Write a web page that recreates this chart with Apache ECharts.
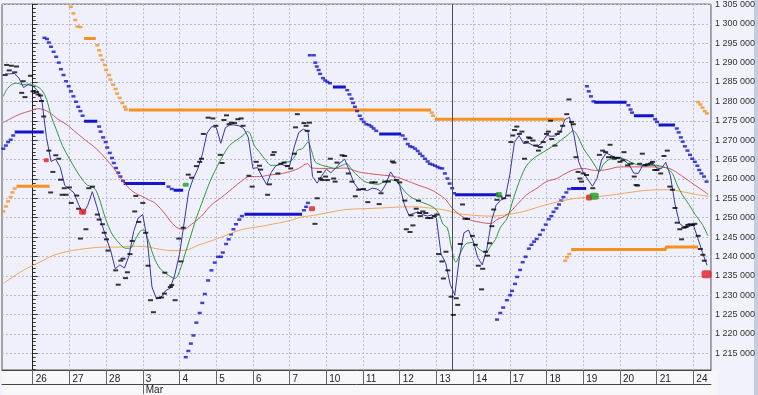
<!DOCTYPE html>
<html><head><meta charset="utf-8">
<script src="https://cdn.jsdelivr.net/npm/echarts@6/dist/echarts.min.js"></script>
<style>html,body{margin:0;padding:0;background:#f1f2fb}#c{width:758px;height:395px}</style>
</head><body><div id="c"></div>
<script>
// x unit: trading day (0 = day "26"), y unit: price in thousands
const dayLabels = ['26','27','28','3','4','5','6','7','10','11','12','13','14','17','18','19','20','21','24'];
const monthLabels = [[3,'Mar']];
const yLabelValues = [1215,1220,1225,1230,1235,1240,1245,1250,1255,1260,1265,1270,1275,1280,1285,1290,1295,1300,1305];
const cursorAt = 11.44;

const blueStart = -0.75, blueStep = 0.125;
const blueLine = [
1287.1,1287.1,1287.2,1286.0,1283.6,1284.3,1284.0,1282.8,1280.2,1270.7,
1264.5,1265.1,1263.0,1258.3,1257.4,1256.4,1253.4,1251.0,1253.2,1256.7,
1252.8,1248.6,1244.9,1241.5,1236.8,1237.8,1237.0,1240.2,1246.4,1249.9,
1250.8,1244.0,1232.1,1229.0,1229.5,1231.2,1231.8,1235.4,1240.5,1248.6,
1256.7,1260.1,1262.6,1266.4,1271.8,1273.5,1273.3,1269.2,1273.2,1274.0,
1273.9,1273.7,1273.0,1270.7,1262.7,1262.9,1260.6,1258.5,1261.7,1263.4,
1263.9,1263.4,1263.4,1268.2,1272.0,1272.8,1272.3,1260.6,1258.9,1260.8,
1262.5,1261.6,1262.7,1264.1,1265.1,1262.2,1259.0,1257.4,1257.2,1257.0,
1257.6,1257.4,1256.7,1258.7,1261.8,1260.1,1258.3,1253.4,1250.6,1251.1,
1251.5,1250.8,1250.4,1250.7,1249.9,1240.6,1238.4,1232.8,1230.0,1239.7,
1246.1,1246.8,1244.0,1239.7,1237.8,1242.0,1249.1,1253.2,1254.5,1255.1,
1261.1,1269.4,1271.2,1269.1,1269.3,1268.7,1268.4,1269.3,1271.2,1271.0,
1271.1,1272.0,1275.3,1275.9,1271.2,1264.4,1261.7,1259.9,1258.1,1260.1,
1264.9,1266.7,1266.1,1265.5,1265.5,1264.7,1263.7,1261.5,1261.4,1263.6,
1263.9,1264.4,1262.8,1262.6,1264.3,1260.8,1253.5,1248.5,1247.5,1247.7,
1248.1,1244.6,1241.0,1237.7];

const closes = [
[-0.75,1286.8],[-0.71,1289.4],[-0.64,1288.0],[-0.58,1289.2],[-0.49,1287.5],[-0.44,1289.0],[-0.30,1282.2],[-0.26,1285.2],[-0.21,1281.1],[-0.06,1286.6],
[0.01,1282.6],[0.10,1282.4],[0.15,1281.8],[0.21,1281.5],[0.24,1280.1],[0.30,1276.1],[0.44,1267.3],[0.49,1256.5],[0.55,1261.8],[0.63,1266.1],
[0.71,1265.2],[0.76,1259.8],[0.80,1255.9],[0.86,1257.6],[0.91,1255.9],[1.00,1257.8],[1.05,1253.8],[1.20,1255.7],[1.25,1252.3],[1.30,1244.6],
[1.45,1247.0],[1.53,1257.6],[1.63,1258.0],[1.76,1250.8],[1.81,1249.5],[1.90,1248.3],[1.95,1246.1],[2.01,1244.4],[2.05,1241.5],[2.26,1236.4],
[2.33,1232.7],[2.40,1238.9],[2.46,1239.4],[2.53,1234.4],[2.58,1235.9],[2.65,1240.6],[2.71,1244.0],[2.78,1251.6],[2.81,1255.6],[2.89,1248.9],
[3.00,1253.8],[3.08,1246.1],[3.14,1237.6],[3.21,1228.7],[3.29,1225.6],[3.43,1229.3],[3.51,1229.4],[3.59,1230.4],[3.60,1235.8],[3.75,1232.1],
[3.79,1232.6],[3.88,1228.7],[3.98,1244.6],[4.04,1238.7],[4.10,1247.4],[4.24,1261.1],[4.33,1260.3],[4.46,1263.3],[4.55,1264.4],[4.60,1265.2],
[4.65,1271.6],[4.78,1275.8],[4.91,1275.6],[4.99,1273.7],[5.11,1266.2],[5.16,1264.1],[5.21,1275.2],[5.28,1276.4],[5.35,1274.1],[5.41,1274.5],
[5.50,1274.4],[5.59,1275.4],[5.68,1275.6],[5.73,1273.7],[5.89,1260.8],[5.98,1258.0],[6.09,1264.4],[6.18,1263.4],[6.21,1262.4],[6.40,1255.9],
[6.45,1258.6],[6.54,1266.2],[6.58,1266.9],[6.68,1261.4],[6.76,1263.9],[6.85,1264.2],[6.94,1263.3],[7.03,1262.7],[7.13,1266.5],[7.16,1273.3],
[7.21,1276.7],[7.39,1274.4],[7.45,1273.7],[7.48,1272.4],[7.54,1274.5],[7.69,1248.4],[7.75,1255.0],[7.81,1261.8],[7.84,1260.1],[7.89,1259.7],
[7.98,1260.6],[8.03,1259.7],[8.11,1265.2],[8.20,1260.1],[8.24,1259.3],[8.29,1264.2],[8.43,1266.1],[8.50,1265.9],[8.60,1261.4],[8.70,1259.3],
[8.79,1255.5],[8.88,1257.2],[9.01,1257.4],[9.13,1254.0],[9.24,1259.1],[9.33,1259.1],[9.44,1253.5],[9.49,1256.3],[9.59,1259.3],[9.69,1259.3],
[9.80,1264.5],[9.84,1264.2],[9.91,1259.7],[10.00,1259.1],[10.14,1254.4],[10.18,1247.0],[10.28,1246.3],[10.31,1250.6],[10.36,1248.0],[10.45,1252.3],
[10.51,1254.4],[10.54,1251.2],[10.56,1250.4],[10.63,1251.6],[10.71,1251.2],[10.76,1249.9],[10.85,1249.9],[10.94,1250.4],[11.01,1250.8],[11.06,1240.6],
[11.15,1238.7],[11.19,1234.3],[11.26,1241.2],[11.31,1236.4],[11.40,1229.6],[11.46,1224.9],[11.54,1229.2],[11.58,1227.5],[11.65,1243.2],[11.71,1253.4],
[11.78,1249.7],[11.85,1249.7],[11.98,1245.3],[12.06,1243.0],[12.14,1237.6],[12.23,1231.5],[12.26,1236.8],[12.34,1241.2],[12.39,1240.2],[12.45,1243.4],
[12.51,1247.8],[12.56,1252.1],[12.65,1254.6],[12.73,1255.5],[12.83,1255.0],[12.96,1255.7],[13.03,1269.5],[13.08,1271.2],[13.13,1272.6],[13.19,1273.5],
[13.26,1271.6],[13.33,1272.2],[13.40,1265.2],[13.45,1269.5],[13.51,1270.7],[13.55,1270.5],[13.63,1269.9],[13.71,1268.6],[13.78,1267.3],[13.83,1268.2],
[13.91,1269.5],[14.00,1271.6],[14.05,1272.2],[14.11,1275.0],[14.14,1270.3],[14.23,1268.6],[14.29,1271.6],[14.36,1272.2],[14.44,1273.7],[14.55,1276.7],
[14.61,1280.5],[14.68,1274.7],[14.73,1274.1],[14.80,1265.6],[14.86,1261.8],[14.91,1260.1],[14.95,1259.3],[15.00,1261.4],[15.09,1261.0],[15.26,1257.6],
[15.44,1266.2],[15.53,1267.3],[15.61,1266.9],[15.69,1265.6],[15.73,1268.8],[15.80,1265.6],[15.85,1265.2],[15.94,1265.4],[16.00,1264.4],[16.08,1264.8],
[16.11,1266.9],[16.21,1263.5],[16.30,1263.9],[16.39,1260.6],[16.44,1258.4],[16.48,1258.3],[16.54,1263.9],[16.61,1266.5],[16.69,1263.5],[16.75,1263.7],
[16.84,1263.9],[16.89,1264.4],[16.95,1262.3],[17.01,1262.3],[17.11,1261.4],[17.20,1265.9],[17.29,1267.3],[17.36,1258.0],[17.43,1257.2],[17.50,1252.5],
[17.56,1248.7],[17.63,1247.0],[17.68,1244.4],[17.74,1247.4],[17.80,1247.6],[17.85,1248.1],[17.91,1248.3],[17.98,1248.1],[18.04,1248.4],[18.13,1245.3],
[18.19,1241.9],[18.26,1240.4],[18.30,1238.9]];

const greenMA = [
[-0.80,1281.3],[-0.71,1283.0],[-0.58,1284.3],[-0.44,1284.7],[-0.26,1284.3],[-0.08,1284.5],[0.10,1283.9],[0.24,1283.0],[0.38,1280.5],[0.50,1276.3],
[0.64,1272.8],[0.81,1268.6],[1.00,1265.2],[1.18,1262.3],[1.36,1259.7],[1.49,1258.4],[1.68,1257.6],[1.81,1255.0],[1.99,1249.6],[2.16,1245.8],
[2.34,1243.6],[2.53,1242.1],[2.66,1242.1],[2.80,1244.4],[2.94,1246.6],[3.03,1246.8],[3.16,1243.9],[3.30,1239.9],[3.46,1237.0],[3.65,1235.4],
[3.88,1234.3],[4.01,1236.4],[4.15,1240.6],[4.29,1244.8],[4.46,1249.9],[4.65,1254.8],[4.83,1259.3],[5.00,1262.7],[5.19,1266.1],[5.36,1268.6],
[5.54,1269.9],[5.73,1271.2],[5.86,1272.2],[5.93,1271.6],[6.04,1268.6],[6.18,1266.9],[6.35,1264.8],[6.49,1263.5],[6.68,1263.5],[6.85,1264.4],
[6.99,1264.4],[7.13,1265.6],[7.21,1267.4],[7.35,1267.8],[7.50,1269.5],[7.61,1266.9],[7.70,1264.4],[7.89,1263.5],[8.06,1263.1],[8.24,1262.7],
[8.43,1263.5],[8.56,1263.9],[8.70,1262.3],[8.88,1260.6],[9.05,1259.3],[9.24,1258.8],[9.41,1258.6],[9.59,1259.3],[9.78,1259.7],[9.94,1259.3],
[10.04,1258.0],[10.18,1256.3],[10.36,1255.0],[10.54,1254.2],[10.76,1253.4],[10.94,1252.5],[11.08,1250.8],[11.18,1248.3],[11.30,1247.3],[11.40,1242.7],
[11.53,1238.5],[11.66,1241.0],[11.80,1243.2],[11.98,1243.6],[12.16,1241.9],[12.34,1241.0],[12.48,1242.7],[12.61,1244.4],[12.74,1247.4],[12.93,1249.9],
[13.10,1255.0],[13.29,1260.1],[13.46,1263.5],[13.69,1265.6],[13.91,1266.9],[14.20,1268.6],[14.38,1269.9],[14.56,1271.2],[14.73,1272.4],[14.84,1271.2],
[15.01,1267.8],[15.20,1265.2],[15.34,1263.1],[15.43,1261.8],[15.56,1263.9],[15.74,1265.2],[15.93,1265.6],[16.10,1265.2],[16.28,1264.4],[16.45,1263.7],
[16.64,1263.5],[16.81,1263.5],[16.99,1263.5],[17.18,1263.1],[17.29,1262.7],[17.43,1261.4],[17.56,1258.4],[17.70,1255.9],[17.88,1253.4],[18.05,1250.8],
[18.24,1248.3],[18.40,1245.3]];

const redMA = [
[-0.80,1274.6],[-0.63,1275.4],[-0.35,1276.7],[-0.08,1277.5],[0.14,1278.1],[0.28,1277.9],[0.46,1277.1],[0.69,1275.4],[0.91,1274.1],[1.18,1272.0],
[1.45,1269.9],[1.73,1267.8],[1.99,1265.2],[2.21,1262.7],[2.40,1260.1],[2.58,1258.0],[2.80,1256.3],[2.98,1255.5],[3.16,1254.6],[3.34,1253.7],
[3.61,1250.9],[3.88,1247.8],[4.10,1247.0],[4.33,1248.3],[4.60,1250.4],[4.86,1253.2],[5.14,1255.2],[5.45,1257.6],[5.73,1259.7],[5.90,1260.6],
[6.18,1260.6],[6.45,1261.0],[6.80,1261.4],[7.08,1262.1],[7.25,1262.7],[7.48,1263.9],[7.61,1262.8],[7.89,1262.7],[8.24,1262.7],[8.51,1262.8],
[8.88,1261.8],[9.15,1261.4],[9.50,1261.0],[9.86,1260.6],[10.14,1259.7],[10.50,1258.4],[10.85,1257.2],[11.08,1255.9],[11.26,1254.6],[11.35,1253.4],
[11.56,1251.3],[11.83,1249.7],[12.20,1248.8],[12.48,1248.5],[12.65,1249.5],[12.93,1250.8],[13.20,1253.4],[13.46,1255.9],[13.74,1257.6],[14.00,1259.3],
[14.28,1260.1],[14.50,1261.3],[14.73,1262.3],[15.00,1262.7],[15.31,1262.2],[15.58,1262.3],[16.03,1263.1],[16.53,1263.1],[16.98,1263.1],[17.34,1262.7],
[17.68,1260.8],[18.04,1258.4],[18.35,1256.4],[18.41,1255.9]];

const orangeMA = [
[-0.80,1233.0],[-0.54,1234.7],[-0.18,1236.8],[0.19,1238.5],[0.55,1240.2],[0.91,1241.2],[1.28,1241.8],[1.63,1242.2],[1.99,1242.4],[2.35,1242.4],
[2.71,1242.6],[3.08,1242.5],[3.43,1241.9],[3.79,1241.5],[4.15,1241.6],[4.51,1242.9],[4.86,1244.0],[5.23,1245.3],[5.59,1246.6],[5.90,1247.3],
[6.26,1247.8],[6.63,1248.5],[6.99,1249.2],[7.30,1250.1],[7.66,1250.6],[8.10,1251.4],[8.56,1252.1],[9.01,1252.3],[9.50,1252.5],[9.91,1252.7],
[10.36,1252.8],[10.81,1252.5],[11.26,1251.9],[11.63,1251.0],[12.03,1250.6],[12.48,1250.4],[12.93,1250.8],[13.38,1251.6],[13.83,1252.9],[14.28,1254.0],
[14.73,1254.9],[15.09,1255.2],[15.45,1255.5],[15.90,1256.0],[16.34,1256.6],[16.80,1257.1],[17.29,1257.2],[17.70,1256.7],[18.06,1256.0],[18.41,1255.5]];

// parabolic stop (blue): single dots and flat runs
const sarDots = [
[-0.80,1267.8],[-0.73,1268.6],[-0.67,1269.5],[-0.60,1270.1],[-0.53,1271.2],
[0.32,1296.4],[0.39,1296.1],[0.44,1295.2],[0.50,1294.1],[0.57,1292.8],[0.64,1291.5],[0.71,1290.0],[0.77,1288.3],[0.84,1286.8],[0.91,1285.2],
[0.98,1283.9],[1.04,1282.6],[1.11,1281.3],[1.18,1279.9],[1.24,1278.6],[1.30,1277.5],[1.36,1276.3],
[1.81,1273.5],[1.85,1272.2],[1.92,1270.7],[1.99,1269.5],[2.03,1268.1],[2.10,1266.7],[2.16,1265.4],[2.21,1264.1],[2.27,1262.8],[2.33,1261.6],[2.39,1260.6],[2.46,1259.5],
[3.70,1258.0],[3.79,1257.4],
[4.17,1214.0],[4.24,1215.6],[4.31,1217.5],[4.38,1219.6],[4.46,1222.9],[4.55,1225.4],[4.62,1228.0],[4.69,1230.3],[4.78,1233.8],[4.87,1236.4],
[4.96,1238.4],[5.05,1239.9],[5.13,1239.9],[5.18,1241.0],[5.27,1243.2],[5.34,1244.4],[5.40,1245.7],[5.47,1247.0],[5.54,1248.3],[5.63,1249.5],[5.70,1250.4],
[7.39,1251.9],[7.45,1252.8],[7.50,1253.8],
[7.55,1291.9],[7.66,1291.9],[7.70,1290.0],[7.74,1289.0],[7.79,1288.1],[7.83,1287.1],[7.91,1286.0],[7.97,1285.4],[8.03,1285.0],[8.10,1284.7],
[8.57,1282.9],[8.63,1281.8],[8.69,1280.7],[8.73,1279.6],[8.78,1278.6],[8.84,1277.5],[8.91,1276.3],[8.96,1275.4],[9.02,1274.7],[9.09,1274.1],
[9.17,1273.9],[9.23,1273.5],[9.29,1273.0],[9.36,1272.4],
[10.08,1271.2],[10.15,1270.3],[10.22,1269.0],[10.28,1268.4],[10.35,1268.2],[10.42,1267.8],[10.49,1267.2],[10.55,1266.5],[10.62,1265.9],[10.69,1265.2],
[10.76,1264.5],[10.82,1263.9],[10.89,1263.7],[10.96,1263.4],[11.03,1263.1],[11.09,1262.8],[11.16,1262.7],[11.23,1261.4],[11.30,1260.1],[11.36,1258.8],
[11.43,1257.6],[11.48,1256.3],
[12.65,1223.7],[12.74,1225.4],[12.82,1226.8],[12.92,1228.7],[13.01,1230.0],[13.06,1231.1],[13.14,1232.9],[13.20,1234.7],[13.28,1236.5],[13.35,1238.5],
[13.43,1239.9],[13.52,1242.0],[13.59,1243.0],[13.66,1243.8],[13.73,1244.5],[13.82,1245.6],[13.90,1246.8],[13.98,1248.2],[14.06,1249.6],[14.13,1250.4],
[14.19,1251.5],[14.27,1252.4],[14.34,1253.4],[14.40,1254.4],[14.46,1255.3],[14.54,1256.5],[14.61,1257.4],
[15.10,1283.9],[15.15,1282.6],[15.21,1281.3],[15.28,1280.0],
[16.23,1279.0],[16.29,1277.9],[16.33,1277.1],[16.96,1275.4],[17.01,1274.7],
[17.55,1273.0],[17.60,1272.0],[17.66,1270.7],[17.71,1269.6],[17.77,1268.4],[17.84,1267.3],[17.91,1266.2],[17.97,1265.2],[18.04,1264.4],[18.11,1263.4],
[18.16,1262.3],[18.22,1261.4],[18.29,1260.6],[18.36,1259.3]];
const sarRuns = [
[[-0.49,1272.1],[0.30,1272.1]],
[[1.40,1274.9],[1.76,1274.9]],
[[2.48,1258.8],[3.61,1258.8]],
[[3.84,1257.1],[4.10,1257.1]],
[[5.77,1250.9],[7.34,1250.9]],
[[8.18,1283.7],[8.53,1283.7]],
[[9.44,1271.6],[10.04,1271.6]],
[[11.51,1255.9],[12.68,1255.9]],
[[14.67,1257.5],[15.08,1257.5]],
[[15.30,1279.8],[16.18,1279.8]],
[[16.38,1276.3],[16.92,1276.3]],
[[17.05,1273.9],[17.50,1273.9]]];

// trailing stop (orange): single dots and flat runs
const stopDots = [
[-0.80,1251.6],[-0.73,1252.9],[-0.67,1254.2],[-0.60,1255.3],[-0.55,1256.5],[-0.49,1257.5],
[1.04,1304.4],[1.11,1302.7],[1.16,1301.0],[1.22,1299.3],[1.30,1299.2],
[1.76,1294.5],[1.81,1293.2],[1.85,1291.9],[1.90,1290.7],[1.97,1289.4],[2.00,1288.1],[2.08,1286.8],[2.12,1285.6],[2.19,1284.3],[2.26,1283.2],
[2.30,1282.0],[2.37,1280.9],[2.44,1279.6],[2.51,1278.6],[2.54,1277.9],
[10.87,1277.1],[10.91,1276.3],
[14.51,1238.9],[14.56,1239.8],[14.62,1240.6],
[18.13,1279.8],[18.19,1279.2],[18.25,1278.4],[18.31,1277.5],[18.37,1276.9]];
const stopRuns = [
[[-0.44,1258.1],[0.46,1258.1]],
[[1.40,1296.2],[1.72,1296.2]],
[[2.62,1277.8],[10.85,1277.8]],
[[10.96,1275.4],[14.49,1275.4]],
[[14.67,1241.8],[17.23,1241.8],[17.27,1242.4],[18.13,1242.4]]];

const sellSignals = [[0.37,1264.8,5,4],[1.36,1251.5,7,6],[7.61,1252.3,6,5],[15.16,1255.2,6,6],[18.36,1235.4,10,8]];
const buySignals = [[4.17,1258.5,6,4],[12.70,1256.0,6,5],[15.30,1255.5,9,7]];

const xMin = -0.836, xMax = 18.48, yMin = 1210.687, yMax = 1305.089;
const dayIdx = dayLabels.map((d, i) => i);
const minorY = []; for (let v = 1211; v <= 1305; v++) minorY.push(v);
const fmtPrice = v => String(Math.round(v * 1000)).replace(/\B(?=(\d{3})+(?!\d))/g, ' ');
const FONT = '"Liberation Sans Narrow","Liberation Sans",Arial,sans-serif';

const chart = echarts.init(document.getElementById('c'), null, {renderer: 'canvas'});
chart.setOption({
  animation: false,
  backgroundColor: '#f1f2fb',
  graphic: [
    {type: 'rect', shape: {x: 2, y: 371, width: 716, height: 24}, style: {fill: '#f7f7fa'}, z: -10},
    {type: 'rect', shape: {x: 754, y: 0, width: 4, height: 395}, style: {fill: '#c5cde2'}, z: -10}
  ],
  grid: {left: 2, right: 40, top: 0, bottom: 24, show: true, backgroundColor: '#eff0fc', borderColor: '#555', borderWidth: 1},
  xAxis: [
    {type: 'value', min: xMin, max: xMax, position: 'bottom',
     axisLine: {show: true, lineStyle: {color: '#444'}},
     axisTick: {show: true, customValues: dayIdx, length: 14, lineStyle: {color: '#666'}},
     axisLabel: {customValues: dayIdx, formatter: v => dayLabels[Math.round(v)], align: 'left', padding: [0, 0, 0, 3], margin: 4,
                 fontSize: 10, color: '#222', fontFamily: FONT},
     splitLine: {show: true, lineStyle: {color: '#b9bccd', type: [2, 2], width: 1}}},
    {type: 'value', min: xMin, max: xMax, position: 'bottom', offset: 14,
     axisLine: {show: true, lineStyle: {color: '#444'}},
     axisTick: {show: true, customValues: monthLabels.map(m => m[0]), length: 10, lineStyle: {color: '#666'}},
     axisLabel: {customValues: monthLabels.map(m => m[0]), formatter: v => (monthLabels.find(m => m[0] === Math.round(v)) || [0, ''])[1],
                 align: 'left', padding: [0, 0, 0, 3], margin: 1, fontSize: 10, color: '#222', fontFamily: FONT},
     splitLine: {show: false}}
  ],
  yAxis: [
    {type: 'value', min: yMin, max: yMax, position: 'right',
     axisLine: {show: true, lineStyle: {color: '#222'}},
     axisTick: {show: true, customValues: minorY, length: 3, lineStyle: {color: '#333'}},
     axisLabel: {show: false}, splitLine: {show: false}},
    {type: 'value', min: yMin, max: yMax, position: 'right',
     axisLine: {show: false},
     axisTick: {show: true, customValues: yLabelValues, length: 5, lineStyle: {color: '#333'}},
     axisLabel: {customValues: yLabelValues, formatter: fmtPrice, margin: 4, fontSize: 9, color: '#333', fontFamily: FONT},
     splitLine: {show: true, lineStyle: {color: '#b9bccd', type: [2, 2], width: 1}}}
  ],
  series: [
    {type: 'line', data: orangeMA, smooth: 0.4, showSymbol: false, symbol: 'none', lineStyle: {color: '#f3a756', width: 1}, z: 3},
    {type: 'line', data: redMA, smooth: 0.4, showSymbol: false, symbol: 'none', lineStyle: {color: '#d45a5a', width: 1}, z: 3},
    {type: 'line', data: greenMA, smooth: 0.3, showSymbol: false, symbol: 'none', lineStyle: {color: '#2f9a34', width: 1}, z: 3},
    {type: 'lines', coordinateSystem: 'cartesian2d', polyline: true, data: sarRuns.map(r => ({coords: r})),
     lineStyle: {color: '#1414c8', width: 3, opacity: 1}, z: 2},
    {type: 'scatter', data: sarDots, symbol: 'rect', symbolSize: [4, 2.5], itemStyle: {color: '#1414c8'}, z: 2},
    {type: 'lines', coordinateSystem: 'cartesian2d', polyline: true, data: stopRuns.map(r => ({coords: r})),
     lineStyle: {color: '#f7901e', width: 3, opacity: 1}, z: 2},
    {type: 'scatter', data: stopDots, symbol: 'rect', symbolSize: [4, 2.5], itemStyle: {color: '#f7901e'}, z: 2},
    {type: 'line', data: blueLine.map((v, i) => [blueStart + i * blueStep, v]), showSymbol: false, symbol: 'none',
     lineStyle: {color: '#3737a6', width: 1}, z: 4,
     markLine: {silent: true, symbol: 'none', label: {show: false}, lineStyle: {color: '#4b4b5c', width: 1, type: 'solid'},
                data: [{xAxis: cursorAt}]}},
    {type: 'scatter', data: closes, symbol: 'rect', symbolSize: [5, 2], itemStyle: {color: '#050505'}, z: 5},
    {type: 'scatter', data: sellSignals.map(s => ({value: [s[0], s[1]], symbolSize: [s[2], s[3]]})), symbol: 'roundRect',
     itemStyle: {color: '#e41b1b'}, z: 6},
    {type: 'scatter', data: buySignals.map(s => ({value: [s[0], s[1]], symbolSize: [s[2], s[3]]})), symbol: 'roundRect',
     itemStyle: {color: '#1f9a22'}, z: 6}
  ]
});
</script></body></html>
